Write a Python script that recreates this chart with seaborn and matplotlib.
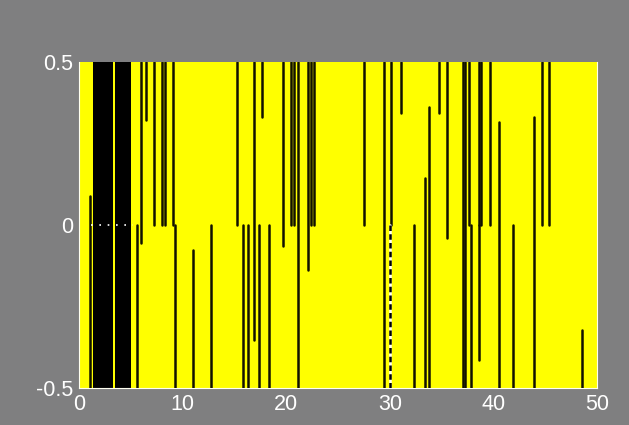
import numpy as np
import pandas as pd
import matplotlib
matplotlib.use("Agg")
import matplotlib.pyplot as plt
import seaborn as sns

# ---- data ----
# solid vertical segments: x position, lower end, upper end
seg_x  = [1.05, 5.6, 6.0, 6.44, 7.2, 7.98, 8.33, 9.1, 9.3, 11.03, 12.77,
          15.22, 15.8, 16.35, 16.9, 17.35, 17.7, 18.34, 19.66, 20.43, 20.75,
          21.14, 22.13, 22.37, 22.68, 27.5, 29.44, 30.15, 31.1, 32.3, 33.4,
          33.8, 34.75, 35.52, 37.1, 37.25, 37.6, 37.84, 38.58, 38.65, 38.8,
          39.7, 40.5, 41.85, 43.95, 44.72, 45.34, 48.58]
seg_lo = [-0.5, -0.5, -0.055, 0.322, 0.0, 0.0, 0.0, 0.0, -0.5, -0.5, -0.5,
          0.0, -0.5, -0.5, -0.353, -0.5, 0.332, -0.5, -0.063, 0.0, 0.0,
          -0.5, -0.138, 0.0, 0.0, 0.0, -0.5, 0.0, 0.344, -0.5, -0.5,
          -0.5, 0.344, -0.039, -0.5, -0.5, 0.0, -0.5, -0.414, 0.0, 0.0,
          0.0, -0.5, -0.5, -0.5, 0.0, 0.0, -0.5]
seg_hi = [0.09, 0.0, 0.5, 0.5, 0.5, 0.5, 0.5, 0.5, 0.0, -0.077, 0.0,
          0.5, 0.0, 0.0, 0.5, 0.0, 0.5, 0.0, 0.5, 0.5, 0.5,
          0.5, 0.5, 0.5, 0.5, 0.5, 0.5, 0.5, 0.5, 0.0, 0.143,
          0.363, 0.5, 0.5, 0.5, 0.5, 0.5, 0.0, 0.0, 0.5, 0.5,
          0.5, 0.317, 0.0, 0.332, 0.5, 0.5, -0.322]

# dashed vertical segment
dash_x, dash_lo, dash_hi = [30.0], [-0.5], [0.0]

# solid black blocks (start, end)
block_start = [1.38, 3.5]
block_end   = [3.31, 5.02]

# white dotted zero marker
zero_x = [1.2, 5.2]

x_ticks = [0, 10, 20, 30, 40, 50]
y_ticks = [-0.5, 0, 0.5]
y_ticklabels = ["-0.5", "0", "0.5"]

# ---- build long-form tables ----
solid = pd.DataFrame({
    "x": np.repeat(seg_x, 2),
    "y": np.ravel(np.column_stack([seg_lo, seg_hi])),
    "seg": np.repeat(np.arange(len(seg_x)), 2),
})
dashed = pd.DataFrame({
    "x": np.repeat(dash_x, 2),
    "y": np.ravel(np.column_stack([dash_lo, dash_hi])),
    "seg": np.repeat(np.arange(len(dash_x)), 2),
})

sns.set_theme(style="white")
plt.rcParams["font.family"] = ["Liberation Sans", "DejaVu Sans"]

GRAY = "#7f7f80"
fig = plt.figure(figsize=(6.29, 4.25), dpi=100, facecolor=GRAY)
ax = fig.add_axes([0.1256, 0.087, 0.8236, 0.767])
ax.set_facecolor("#ffff00")

for s, e in zip(block_start, block_end):
    ax.fill_between([s, e], -0.5, 0.5, color="black", lw=0, zorder=2)

sns.lineplot(data=solid, x="x", y="y", units="seg", estimator=None,
             color="#111100", lw=1.8, ax=ax, zorder=3, legend=False)
sns.lineplot(data=dashed, x="x", y="y", units="seg", estimator=None,
             color="white", lw=1.8, ax=ax, zorder=3, legend=False)
sns.lineplot(data=dashed, x="x", y="y", units="seg", estimator=None,
             color="black", lw=1.8, ax=ax, zorder=4, legend=False,
             dashes=False, linestyle=(0, (2.2, 1.3)))
ax.plot(zero_x, [0, 0], color="white", lw=1.2, ls=(0, (1, 4)), zorder=5)

ax.set_xlim(0, 50)
ax.set_ylim(-0.5, 0.5)
ax.set_xticks(x_ticks)
ax.set_yticks(y_ticks)
ax.set_yticklabels(y_ticklabels)
ax.set_xlabel("")
ax.set_ylabel("")
ax.tick_params(axis="both", colors="white", labelcolor="white",
               labelsize=15.5, direction="in", length=0, pad=4)
for sp in ax.spines.values():
    sp.set_color("#fffff0")
    sp.set_linewidth(0.8)
ax.spines["top"].set_visible(False)

fig.savefig("out.png", dpi=100, facecolor=GRAY)
